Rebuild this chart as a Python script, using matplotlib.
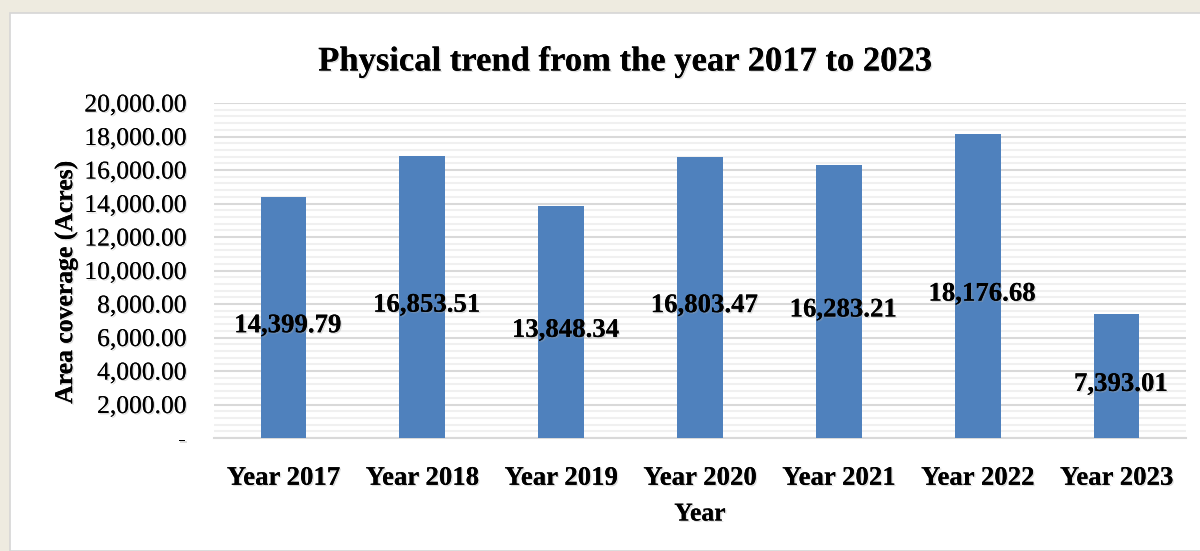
import matplotlib
matplotlib.use("Agg")
import matplotlib.pyplot as plt
from matplotlib.patches import Rectangle
from matplotlib.ticker import MultipleLocator, FuncFormatter
import matplotlib.patheffects as pe

years = ["Year 2017", "Year 2018", "Year 2019", "Year 2020",
         "Year 2021", "Year 2022", "Year 2023"]
area_acres = [14399.79, 16853.51, 13848.34, 16803.47, 16283.21, 18176.68, 7393.01]

title = "Physical trend from the year 2017 to 2023"
x_label = "Year"
y_label = "Area coverage (Acres)"

bar_color = "#4F81BD"
font = "Liberation Serif"
shadow = [pe.withSimplePatchShadow(offset=(1.0, -1.0), shadow_rgbFace="#a0a0a0", alpha=0.35),
          pe.Normal()]

fig = plt.figure(figsize=(12, 5.51), dpi=100)
fig.patch.set_facecolor("#EEEBE0")

# white chart panel with a thin gray edge
panel = Rectangle((10 / 1200, 0), 1.0, 1 - 13 / 551, transform=fig.transFigure,
                  facecolor="white", edgecolor="#D6D6D6", linewidth=1.2, zorder=-5)
fig.patches.append(panel)

ax = fig.add_axes([214 / 1200, 1 - 438 / 551, 972 / 1200, 335 / 551])
ax.set_facecolor("none")
ax.set_zorder(2)

x = range(len(years))
bars = ax.bar(x, area_acres, width=0.33, color=bar_color, zorder=3)

ax.set_xlim(-0.5, len(years) - 0.5)
ax.set_ylim(0, 20000)
ax.yaxis.set_major_locator(MultipleLocator(2000))
ax.yaxis.set_minor_locator(MultipleLocator(400))
ax.yaxis.set_major_formatter(FuncFormatter(lambda v, p: "-" if v == 0 else f"{v:,.2f}"))

ax.grid(which="major", axis="y", color="#D9D9D9", linewidth=1.5, zorder=0)
ax.grid(which="minor", axis="y", color="#F0F0F0", linewidth=1.5, zorder=0)
ax.set_axisbelow(True)

for s in ["top", "right", "left"]:
    ax.spines[s].set_visible(False)
ax.spines["bottom"].set_color("#D9D9D9")
ax.spines["bottom"].set_linewidth(1.5)

ax.tick_params(axis="both", which="both", length=0)
ax.tick_params(axis="y", pad=20)
ax.tick_params(axis="x", pad=20)
ax.set_xticks(list(x))
ax.set_xticklabels(years, fontfamily=font, fontweight="bold", fontsize=19.3, path_effects=shadow)
for lbl in ax.get_yticklabels():
    lbl.set_fontfamily(font)
    lbl.set_fontsize(18.4)
    lbl.set_path_effects(shadow)

# value labels at the middle of each bar
for xi, v in zip(x, area_acres):
    ax.annotate(f"{v:,.2f}", xy=(xi, v / 2), xytext=(3, -6), textcoords="offset points",
                ha="center", va="center", fontfamily=font, fontweight="bold",
                fontsize=19.3, color="black", zorder=5, path_effects=shadow)

fig.text(625 / 1200, 1 - 62 / 551, title, ha="center", va="center",
         fontfamily=font, fontweight="bold", fontsize=24.9, path_effects=shadow)
fig.text(700 / 1200, 1 - 514 / 551, x_label, ha="center", va="center",
         fontfamily=font, fontweight="bold", fontsize=18.5, path_effects=shadow)
fig.text(66 / 1200, 1 - 282 / 551, y_label, ha="center", va="center", rotation=90,
         fontfamily=font, fontweight="bold", fontsize=18.5, path_effects=shadow)

fig.savefig("out.png", dpi=100, facecolor=fig.get_facecolor())
